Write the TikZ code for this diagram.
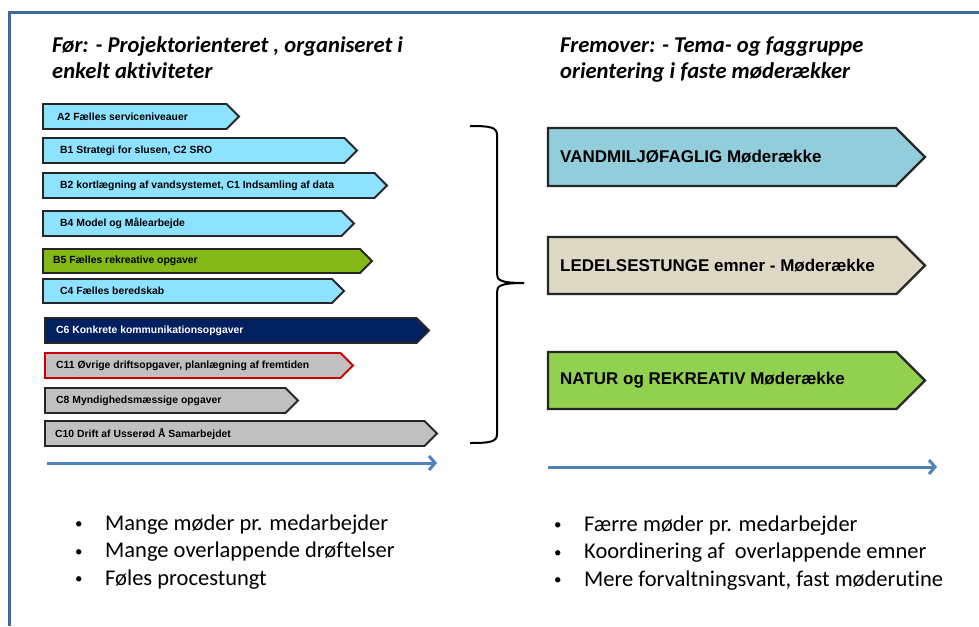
\documentclass[tikz,border=0pt]{standalone}
\usepackage{fontspec}
\setmainfont[Ligatures=NoCommon]{Carlito}
\newfontfamily\arialf{Liberation Sans}
\usetikzlibrary{arrows.meta}
\definecolor{lblue}{RGB}{141,226,255}
\definecolor{lgreen}{RGB}{132,184,23}
\definecolor{navy}{RGB}{0,32,96}
\definecolor{lgray}{RGB}{192,192,192}
\definecolor{redb}{RGB}{200,0,0}
\definecolor{rblue}{RGB}{146,205,220}
\definecolor{rbeige}{RGB}{221,217,196}
\definecolor{rgreen}{RGB}{146,208,80}
\definecolor{framec}{RGB}{62,103,160}
\definecolor{arrowc}{RGB}{79,129,189}
\newcommand\lbox[8]{%
  \draw[#6] (#2,#3) -- ({#5-(#4-#3)/2},#3) -- (#5,{(#3+#4)/2}) -- ({#5-(#4-#3)/2},#4) -- (#2,#4) -- cycle;
  \node[ltext,anchor=west] (#1) at (#7,{(#3+#4)/2}) {#8};}
\newcommand\rbox[5]{%
  \draw[#4] (548,#2) -- ({925-(#3-#2)/2},#2) -- (925,{(#2+#3)/2}) -- ({925-(#3-#2)/2},#3) -- (548,#3) -- cycle;
  \node[rtext,anchor=west] (#1) at (560,{(#2+#3)/2}) {#5};}
\newcommand\bitem{\makebox[30pt][l]{\fontsize{15}{15}\selectfont\raisebox{1.5pt}{•}}}
\begin{document}
\begin{tikzpicture}[x=1pt,y=-1pt,
  ltext/.style={font=\arialf\bfseries\fontsize{10.4}{12}\selectfont, inner sep=0pt},
  rtext/.style={font=\arialf\bfseries\fontsize{17}{19}\selectfont, inner sep=0pt},
  lbase/.style={line width=1.8pt, draw=black!85, line join=miter},
  rbase/.style={line width=2.2pt, draw=black!85, line join=miter},
  title/.style={font=\bfseries\itshape\fontsize{22.6}{26}\selectfont, align=left, inner sep=0pt, anchor=base west},
  bul/.style={font=\fontsize{22.5}{27.5}\selectfont, align=left, inner sep=0pt, anchor=base west},
  timearrow/.style={line width=3pt, draw=arrowc, -{Straight Barb[length=6pt,width=14pt,line width=3pt]}},
  brace/.style={line width=2pt, draw=black}]
\useasboundingbox (0,0) rectangle (979,626);
\fill[white] (0,0) rectangle (979,626);
% frame
\draw[framec, line width=2.5pt] (9.5,626) -- (9.5,12.5) -- (979,12.5);
% titles
\node[title] (tl) at (52,78) {Før: - Projektorienteret , organiseret i\\enkelt aktiviteter};
\node[title] (tr) at (560,78) {Fremover: - Tema- og faggruppe\\orientering i faste møderækker};
% left boxes
\lbox{a2}{43}{104}{129}{239}{lbase,fill=lblue}{57}{A2 Fælles serviceniveauer}
\lbox{b1}{43}{138}{163}{357}{lbase,fill=lblue}{60}{B1 Strategi for slusen, C2 SRO}
\lbox{b2}{43}{173}{198}{387}{lbase,fill=lblue}{60}{B2 kortlægning af vandsystemet, C1 Indsamling af data}
\lbox{b4}{43}{211}{236}{354}{lbase,fill=lblue}{60}{B4 Model og Målearbejde}
\lbox{b5}{43}{249}{273}{372}{lbase,fill=lgreen}{53}{B5 Fælles rekreative opgaver}
\lbox{c4}{43}{279}{303}{344}{lbase,fill=lblue}{60}{C4 Fælles beredskab}
\lbox{c6}{45}{318}{343}{429}{lbase,fill=navy}{56}{\textcolor{white}{C6 Konkrete kommunikationsopgaver}}
\lbox{c11}{45}{353}{378}{353}{lbase,draw=redb,fill=lgray}{56}{C11 Øvrige driftsopgaver, planlægning af fremtiden}
\lbox{c8}{45}{388}{413}{298}{lbase,fill=lgray}{56}{C8 Myndighedsmæssige opgaver}
\lbox{c10}{45}{421}{446}{437}{lbase,fill=lgray}{55}{C10 Drift af Usserød Å Samarbejdet}
% brace
\coordinate (bt) at (470,126);
\coordinate (bb) at (470,443);
\coordinate (bm) at (524,283);
\draw[brace] (bt) .. controls (490,126) and (497,127) .. (497,135) -- (497,274)
  .. controls (497,280) and (500,283) .. (bm);
\draw[brace] (bm) .. controls (500,283) and (497,286) .. (497,292) -- (497,434)
  .. controls (497,442) and (490,443) .. (bb);
% right boxes
\rbox{vm}{128}{186}{rbase,fill=rblue}{VANDMILJØFAGLIG Møderække}
\rbox{le}{237}{294}{rbase,fill=rbeige}{LEDELSESTUNGE emner - Møderække}
\rbox{na}{352}{409}{rbase,fill=rgreen}{NATUR og REKREATIV Møderække}
% time arrows
\coordinate (la1) at (47,463);
\coordinate (la2) at (437,463);
\coordinate (ra1) at (548,467);
\coordinate (ra2) at (937,467);
\draw[timearrow] (la1) -- (la2);
\draw[timearrow] (ra1) -- (ra2);
% bullets
\node[bul] (bl) at (75,585) {\bitem Mange møder pr. medarbejder\\
\bitem Mange overlappende drøftelser\\
\bitem Føles procestungt};
\node[bul] (br) at (554,586) {\bitem Færre møder pr. medarbejder\\
\bitem Koordinering af~ overlappende emner\\
\bitem Mere forvaltningsvant, fast møderutine};
\end{tikzpicture}
\end{document}
